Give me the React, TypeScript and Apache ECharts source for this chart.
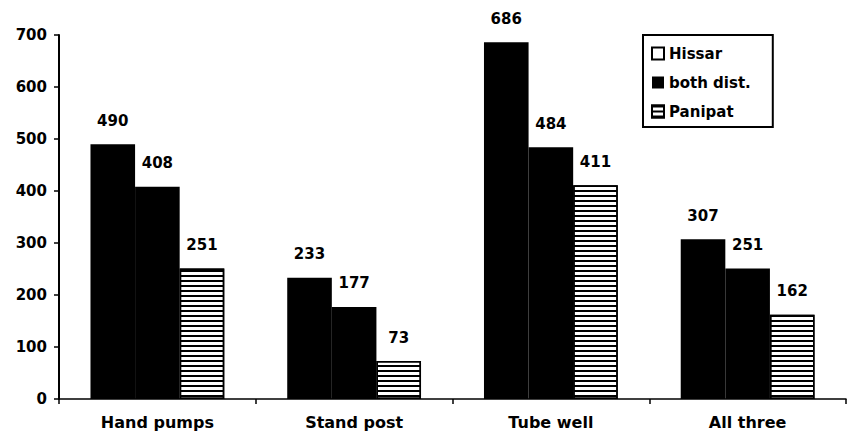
import React, { useEffect, useRef } from "react";
import * as echarts from "echarts";

const categories = ["Hand pumps", "Stand post", "Tube well", "All three"];
const hissar = [490, 233, 686, 307];
const bothDist = [408, 177, 484, 251];
const panipat = [251, 73, 411, 162];
const yTicks = { min: 0, max: 700, interval: 100 };

const FONT = "DejaVu Sans";

export default function App() {
  const ref = useRef<HTMLDivElement>(null);
  useEffect(() => {
    if (!ref.current) return;
    const chart = echarts.init(ref.current, null, { renderer: "svg" });
    const label = {
      show: true,
      position: "top",
      distance: 16,
      color: "#000",
      fontFamily: FONT,
      fontWeight: "bold",
      fontSize: 15,
    };
    chart.setOption({
      animation: false,
      backgroundColor: "#fff",
      grid: { left: 59, right: 4, top: 35, bottom: 40 },
      legend: {
        orient: "vertical",
        left: 643,
        top: 35,
        backgroundColor: "#fff",
        borderColor: "#000",
        borderWidth: 2,
        borderRadius: 0,
        padding: [11, 22, 8, 8],
        itemWidth: 12,
        itemHeight: 12,
        itemGap: 14,
        textStyle: { fontFamily: FONT, fontWeight: "bold", fontSize: 15, color: "#000" },
        data: [
          {
            name: "Hissar",
            icon: "rect",
            itemStyle: { color: "#fff", borderColor: "#000", borderWidth: 2 },
          },
          { name: "both dist.", icon: "rect" },
          { name: "Panipat", icon: "rect" },
        ],
      },
      xAxis: {
        type: "category",
        data: categories,
        axisLine: { lineStyle: { color: "#000", width: 1.5 } },
        axisTick: { show: true, length: 5, lineStyle: { color: "#000", width: 1.5 } },
        axisLabel: {
          color: "#000",
          fontFamily: FONT,
          fontWeight: "bold",
          fontSize: 16,
          margin: 15,
        },
        splitLine: { show: false },
      },
      yAxis: {
        type: "value",
        min: yTicks.min,
        max: yTicks.max,
        interval: yTicks.interval,
        axisLine: { show: true, lineStyle: { color: "#000", width: 2 } },
        axisTick: { show: true, length: 5, lineStyle: { color: "#000", width: 1.5 } },
        axisLabel: {
          color: "#000",
          fontFamily: FONT,
          fontWeight: "bold",
          fontSize: 15,
          margin: 12,
        },
        splitLine: { show: false },
      },
      series: [
        {
          name: "Hissar",
          type: "bar",
          data: hissar,
          barGap: "0%",
          barCategoryGap: "32%",
          itemStyle: { color: "#000" },
          label,
        },
        {
          name: "both dist.",
          type: "bar",
          data: bothDist,
          barGap: "0%",
          barCategoryGap: "32%",
          itemStyle: { color: "#000" },
          label,
        },
        {
          name: "Panipat",
          type: "bar",
          data: panipat,
          barGap: "0%",
          barCategoryGap: "32%",
          itemStyle: {
            color: "#fff",
            borderColor: "#000",
            borderWidth: 1.5,
            decal: {
              symbol: "rect",
              symbolSize: 1,
              dashArrayX: [1, 0],
              dashArrayY: [2, 3],
              rotation: 0,
              color: "#000",
              backgroundColor: "#fff",
            },
          },
          label,
        },
      ],
    });
    return () => chart.dispose();
  }, []);
  return <div ref={ref} style={{ width: 850, height: 439, position: "absolute", left: 0, top: 0 }} />;
}
